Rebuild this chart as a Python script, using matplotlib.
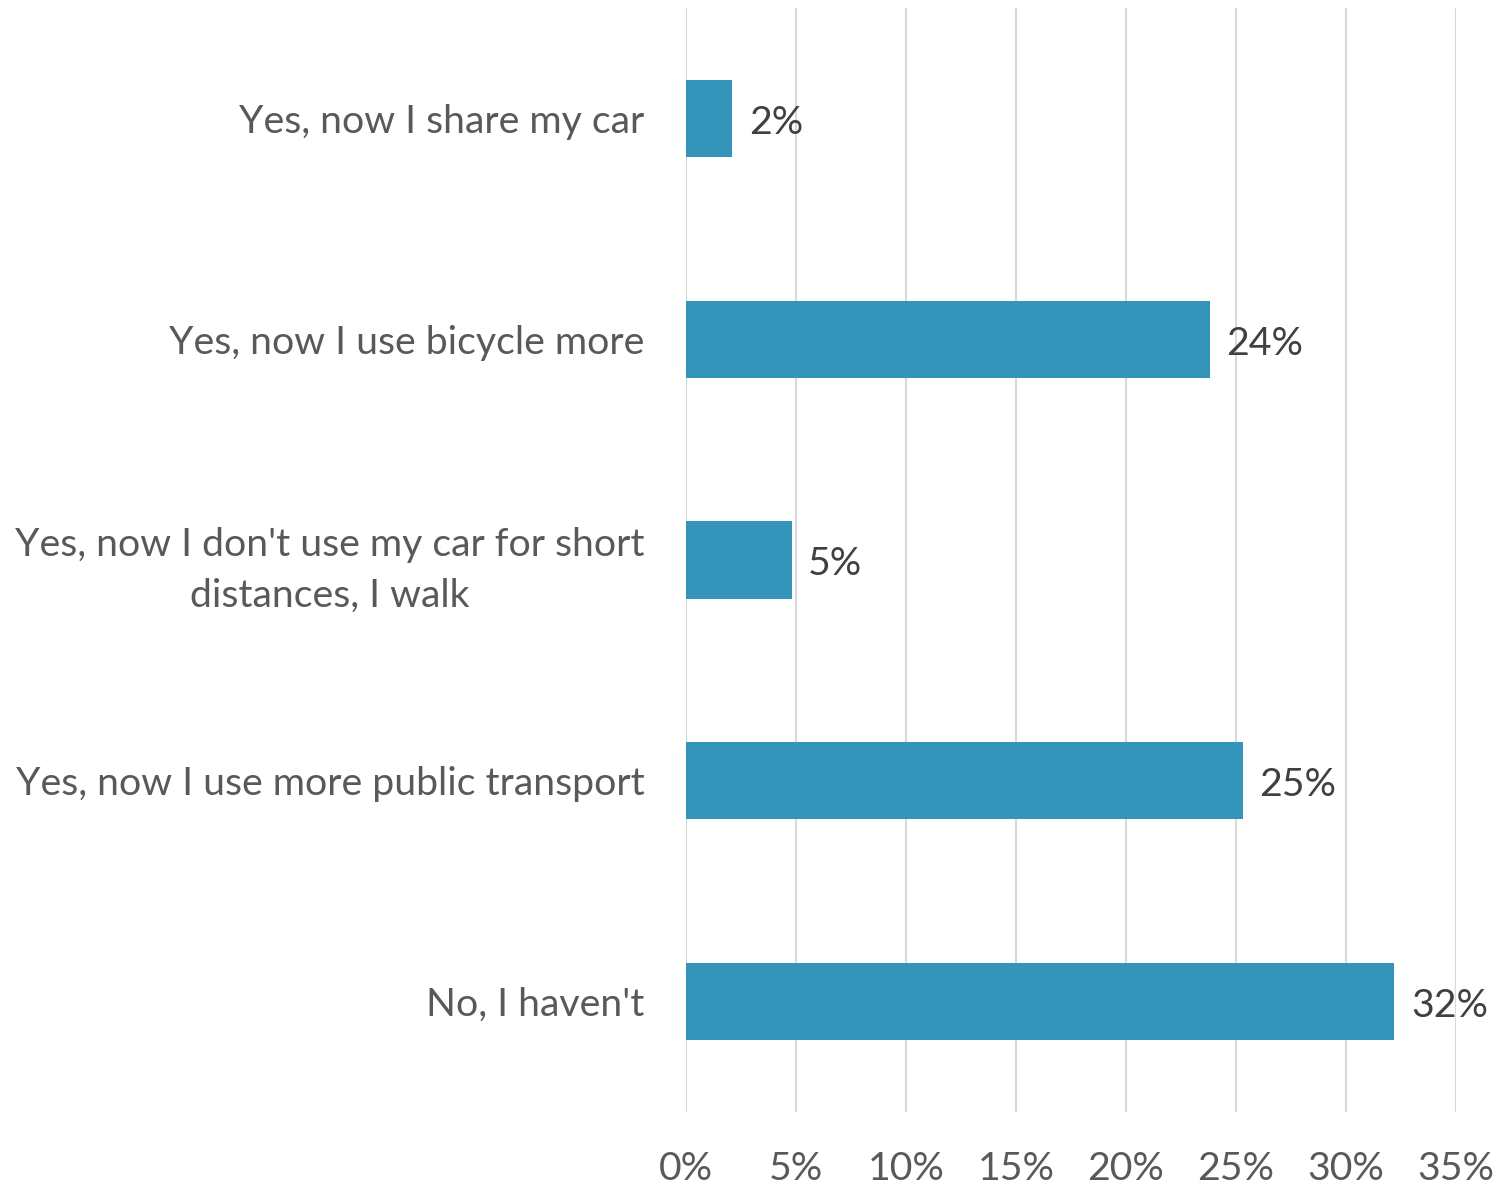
import matplotlib.pyplot as plt

# Survey answers, top to bottom
answers = ["Yes, now I share my car",
           "Yes, now I use bicycle more",
           "Yes, now I don't use my car for short\ndistances, I walk",
           "Yes, now I use more public transport",
           "No, I haven't"]
shares = [2.1, 23.8, 4.8, 25.3, 32.2]
xticks = [0, 5, 10, 15, 20, 25, 30, 35]

bar_color = "#3494BA"
text_color = "#595959"
fsize = 28.3

plt.rcParams['font.family'] = ['Lato', 'DejaVu Sans']

fig = plt.figure(figsize=(14.96, 11.87), dpi=100)
ax = fig.add_axes([686/1496, 1-1112/1187, (1456-686)/1496, (1112-8)/1187])

ypos = list(range(len(answers)))
ax.barh(ypos, shares, height=0.35, color=bar_color, zorder=3)
for y, v in zip(ypos, shares):
    ax.text(v + 0.75, y + 0.02, "%d%%" % round(v), va="center", ha="left",
            fontsize=fsize, color="#404040")

ax.set_ylim(len(answers) - 0.5, -0.5)
ax.set_xlim(0, 35)
ax.set_yticks(ypos)
ax.set_yticklabels(answers, fontsize=fsize, color=text_color,
                   multialignment="center", linespacing=1.5)
ax.set_xticks(xticks)
ax.set_xticklabels(["%d%%" % t for t in xticks], fontsize=fsize, color=text_color)
ax.tick_params(axis="y", length=0, pad=30)
ax.tick_params(axis="x", length=0, pad=28)
ax.grid(axis="x", color="#D9D9D9", linewidth=1.5, zorder=0)
for s in ax.spines.values():
    s.set_visible(False)

fig.savefig("out.png", dpi=100)
